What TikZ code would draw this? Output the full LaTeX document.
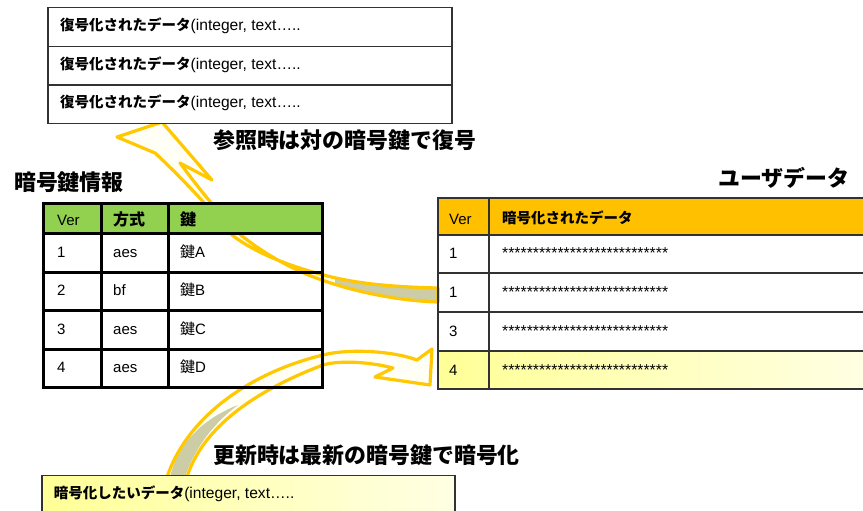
\documentclass[tikz,border=0pt]{standalone}
\usepackage{fontspec}
\setmainfont{Liberation Sans}
\newfontfamily\jp{Noto Sans CJK JP}
\newcommand{\jb}[1]{{\fontsize{14.5}{16}\selectfont\jp\bfseries #1}}
\newcommand{\jbh}[1]{{\fontsize{16}{17}\selectfont\jp\bfseries #1}}
\definecolor{arrowyel}{RGB}{255,200,0}
\definecolor{keygreen}{RGB}{146,208,80}
\definecolor{hdrorange}{RGB}{255,192,0}
\definecolor{ribbonolive}{RGB}{204,204,166}
\definecolor{ribbonfill}{RGB}{255,255,246}
\definecolor{yelA}{RGB}{255,255,150}
\definecolor{yelB}{RGB}{255,255,228}
\definecolor{boxline}{RGB}{50,50,50}
\tikzset{
  ribbon/.style={draw=arrowyel, line width=3.2pt, line join=round, fill=ribbonfill},
  thinbox/.style={draw=boxline, line width=1.3pt},
  keyline/.style={draw=black, line width=3pt},
  txt/.style={inner sep=0pt, anchor=base west, font=\fontsize{15.6}{17}\selectfont},
  celltxt/.style={inner sep=0pt, anchor=base west, font=\fontsize{15}{17}\selectfont},
  startxt/.style={inner sep=0pt, anchor=base west, font=\fontsize{15.8}{17}\selectfont},
  bigjp/.style={inner sep=0pt, anchor=base west, font=\fontsize{21.9}{24}\selectfont\jp\bfseries},
}
\def\arrowone{(438,288) .. controls (395,287) and (355,284) .. (320,274)
  .. controls (290,266) and (255,253) .. (232,235)
  .. controls (208,206) and (180,176) .. (155,153)
  -- (117,137) -- (162,122) -- (212,180) -- (180,163)
  .. controls (200,190) and (220,215) .. (242,236)
  .. controls (262,252) and (292,270) .. (322,280)
  .. controls (355,292) and (400,301) .. (438,302) -- cycle}
\def\arrowtwo{(167,477) .. controls (190,410) and (260,370) .. (323,355)
  .. controls (345,349) and (390,350) .. (417,360)
  -- (432,349) -- (430,385) -- (375,377) -- (393,368)
  .. controls (370,362) and (340,360) .. (323,365)
  .. controls (270,385) and (205,420) .. (187,477) -- cycle}
\begin{document}
\begin{tikzpicture}[x=1pt,y=-1pt]
\path[use as bounding box] (0,0) rectangle (863,511);
\clip (0,0) rectangle (863,511);
\fill[white] (0,0) rectangle (863,511);

% ---- ribbon arrows (behind tables)
\fill[ribbonfill] \arrowone;
\begin{scope}
  \clip (335,240) rectangle (440,320);
  \fill[ribbonolive] \arrowone;
\end{scope}
\draw[ribbon, fill=none] \arrowone;

\fill[ribbonfill] \arrowtwo;
\fill[ribbonolive] (170,477) .. controls (178,445) and (200,420) .. (238,405)
  .. controls (215,422) and (195,447) .. (185,477) -- cycle;
\draw[ribbon, fill=none] \arrowtwo;

% ---- top box (decrypted data)
\filldraw[thinbox, fill=white] (48,7.3) rectangle (452,123.3);
\draw[thinbox] (48,46.7) -- (452,46.7) (48,85) -- (452,85);
\node[txt] (d1) at (60,31) {\jb{復号化されたデータ}(integer, text…..};
\node[txt] (d2) at (60,69.5) {\jb{復号化されたデータ}(integer, text…..};
\node[txt] (d3) at (60,107.5) {\jb{復号化されたデータ}(integer, text…..};

% ---- labels
\node[bigjp] (lref) at (213,148.5) {参照時は対の暗号鍵で復号};
\node[bigjp] (lkey) at (14,190.5) {暗号鍵情報};
\node[bigjp] (luser) at (718,186.5) {ユーザデータ};
\node[bigjp] (lupd) at (213,463.5) {更新時は最新の暗号鍵で暗号化};

% ---- key table
\fill[keygreen] (43,203) rectangle (322.7,233);
\draw[keyline] (43,203) rectangle (322.7,387.5);
\draw[keyline] (101.5,203) -- (101.5,387.5) (168.5,203) -- (168.5,387.5);
\draw[keyline] (43,233) -- (322.7,233) (43,272) -- (322.7,272)
  (43,310.5) -- (322.7,310.5) (43,349) -- (322.7,349);
\node[celltxt] (kh1) at (57,225) {Ver};
\node[celltxt] (kh2) at (113,225.5) {\jbh{方式}};
\node[celltxt] (kh3) at (180,225.5) {\jbh{鍵}};
\node[celltxt] (k1a) at (57,257) {1};
\node[celltxt] (k1b) at (113,257) {aes};
\node[celltxt] (k1c) at (180,257) {{\jp 鍵}A};
\node[celltxt] (k2a) at (57,295.5) {2};
\node[celltxt] (k2b) at (113,295.5) {bf};
\node[celltxt] (k2c) at (180,295.5) {{\jp 鍵}B};
\node[celltxt] (k3a) at (57,334) {3};
\node[celltxt] (k3b) at (113,334) {aes};
\node[celltxt] (k3c) at (180,334) {{\jp 鍵}C};
\node[celltxt] (k4a) at (57,372.5) {4};
\node[celltxt] (k4b) at (113,372.5) {aes};
\node[celltxt] (k4c) at (180,372.5) {{\jp 鍵}D};

% ---- user data table
\fill[hdrorange] (438,198) rectangle (870,235);
\shade[left color=yelA, right color=yelB] (438,351) rectangle (870,389);
\draw[thinbox] (870,198) -- (438,198) -- (438,389) -- (870,389);
\draw[thinbox] (489,198) -- (489,389);
\draw[thinbox] (438,235) -- (870,235) (438,273) -- (870,273)
  (438,312) -- (870,312) (438,351) -- (870,351);
\node[celltxt] (uh1) at (449,224) {Ver};
\node[celltxt] (uh2) at (502,223.5) {\jb{暗号化されたデータ}};
\node[celltxt] (u1a) at (449,258.5) {1};
\node[startxt] (u1b) at (502,258.5) {***************************};
\node[celltxt] (u2a) at (449,297) {1};
\node[startxt] (u2b) at (502,297) {***************************};
\node[celltxt] (u3a) at (449,336) {3};
\node[startxt] (u3b) at (502,336) {***************************};
\node[celltxt] (u4a) at (449,375) {4};
\node[startxt] (u4b) at (502,375) {***************************};

% ---- bottom box (data to encrypt)
\shade[left color=yelA, right color=yelB] (42,475.5) rectangle (455,520);
\draw[thinbox] (42,520) -- (42,475.5) -- (455,475.5) -- (455,520);
\node[txt] (e1) at (53.6,498) {\jb{暗号化したいデータ}(integer, text…..};
\end{tikzpicture}
\end{document}
